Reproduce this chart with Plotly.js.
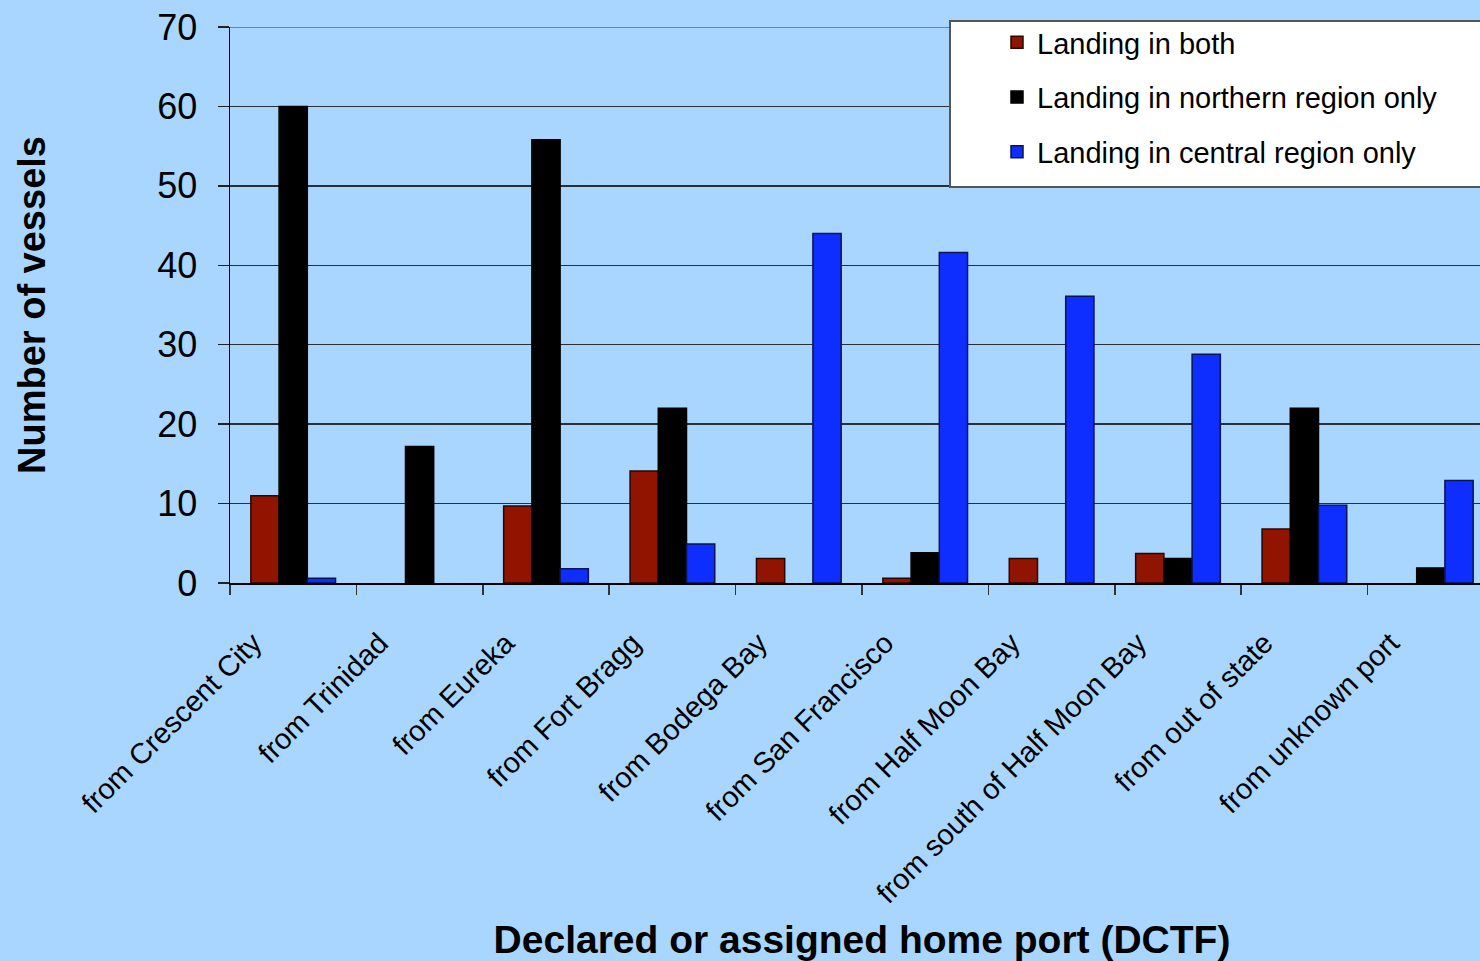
<!DOCTYPE html>
<html>
<head>
<meta charset="utf-8">
<script src="https://cdn.plot.ly/plotly-3.0.1.min.js"></script>
<style>
  html, body { margin: 0; padding: 0; overflow: hidden; background: #A9D6FE; }
  #chart { width: 1520px; height: 961px; }
</style>
</head>
<body>
<div id="chart"></div>
<script>
// ---- data ----
const categories = [
  "from Crescent City", "from Trinidad", "from Eureka", "from Fort Bragg",
  "from Bodega Bay", "from San Francisco", "from Half Moon Bay",
  "from south of Half Moon Bay", "from out of state", "from unknown port"
];
const seriesNames = [
  "Landing in both",
  "Landing in northern region only",
  "Landing in central region only"
];
const landingBoth     = [11, null, 9.7, 14.1, 3.1, 0.6, 3.1, 3.7, 6.8, null];
const landingNorthern = [60, 17.2, 55.8, 22, null, 3.8, null, 3.1, 22, 1.9];
const landingCentral  = [0.6, null, 1.8, 4.9, 44, 41.6, 36.1, 28.8, 9.8, 12.9];
const yTickValues = [0, 10, 20, 30, 40, 50, 60, 70];

// ---- styling ----
const bg = "#A9D6FE";
const fillColors = ["#911400", "#000000", "#0E2EFF"];
const edgeColors = ["#2a0600", "#000000", "#0a1450"];
const seriesData = [landingBoth, landingNorthern, landingCentral];

const traces = seriesData.map((vals, i) => ({
  type: "bar",
  name: seriesNames[i],
  x: categories,
  y: vals,
  legendgroup: "g" + i,
  marker: { color: fillColors[i], line: { color: edgeColors[i], width: 1.5 } },
  hoverinfo: "x+y+name"
}));

// pixel helpers for layout-only decorations
const L = 230, T = 27, PW = 1264, PH = 556;
const px = v => (v - L) / PW;
const py = v => (T + PH - v) / PH;

const layout = {
  width: 1520,
  height: 961,
  margin: { l: L, r: 1520 - L - PW, t: T, b: 961 - T - PH },
  paper_bgcolor: bg,
  plot_bgcolor: bg,
  font: { family: "Liberation Sans, Arial, sans-serif", color: "#000" },
  barmode: "group",
  bargap: 0.33,
  bargroupgap: 0,
  showlegend: true,
  legend: {
    x: px(997), xanchor: "left",
    y: py(17), yanchor: "top",
    bgcolor: "rgba(0,0,0,0)",
    borderwidth: 0,
    font: { size: 29, color: "#000" },
    traceorder: "grouped",
    tracegroupgap: 14
  },
  xaxis: {
    type: "category",
    range: [-0.5, 9.5],
    showline: true, linecolor: "#000", linewidth: 1.5,
    ticks: "outside", tickson: "boundaries", ticklen: 10, tickwidth: 1.5, tickcolor: "#333",
    tickangle: -45,
    tickfont: { size: 29, color: "#000" },
    ticklabelshift: -40,
    ticklabelstandoff: 30,
    showgrid: false,
    title: {
      text: "Declared or assigned home port (DCTF)",
      font: { size: 39, family: "Liberation Sans, Arial, sans-serif", weight: "bold", color: "#000" },
      standoff: 24
    }
  },
  yaxis: {
    range: [0, 70],
    tickvals: yTickValues,
    showline: true, linecolor: "#000", linewidth: 1.5,
    ticks: "outside", ticklen: 11, tickwidth: 1.5, tickcolor: "#222",
    tickfont: { size: 36, color: "#000" },
    ticklabelstandoff: 13,
    showgrid: true, gridcolor: "#2b2f36", gridwidth: 1.5,
    zeroline: false,
    title: {
      text: "Number of vessels",
      font: { size: 38, family: "Liberation Sans, Arial, sans-serif", weight: "bold", color: "#000" },
      standoff: 100
    }
  },
  shapes: [
    { type: "line", xref: "paper", yref: "y", x0: 0, x1: 1, y0: 70, y1: 70,
      line: { color: "#7a7f85", width: 2 }, layer: "above" },
    { type: "rect", xref: "paper", yref: "paper",
      x0: px(950), x1: px(1515), y0: py(187), y1: py(21),
      fillcolor: "#FFFFFF", line: { color: "#555", width: 2 }, layer: "above" }
  ]
};

Plotly.newPlot("chart", traces, layout, { displayModeBar: false, staticPlot: true });
</script>
</body>
</html>
